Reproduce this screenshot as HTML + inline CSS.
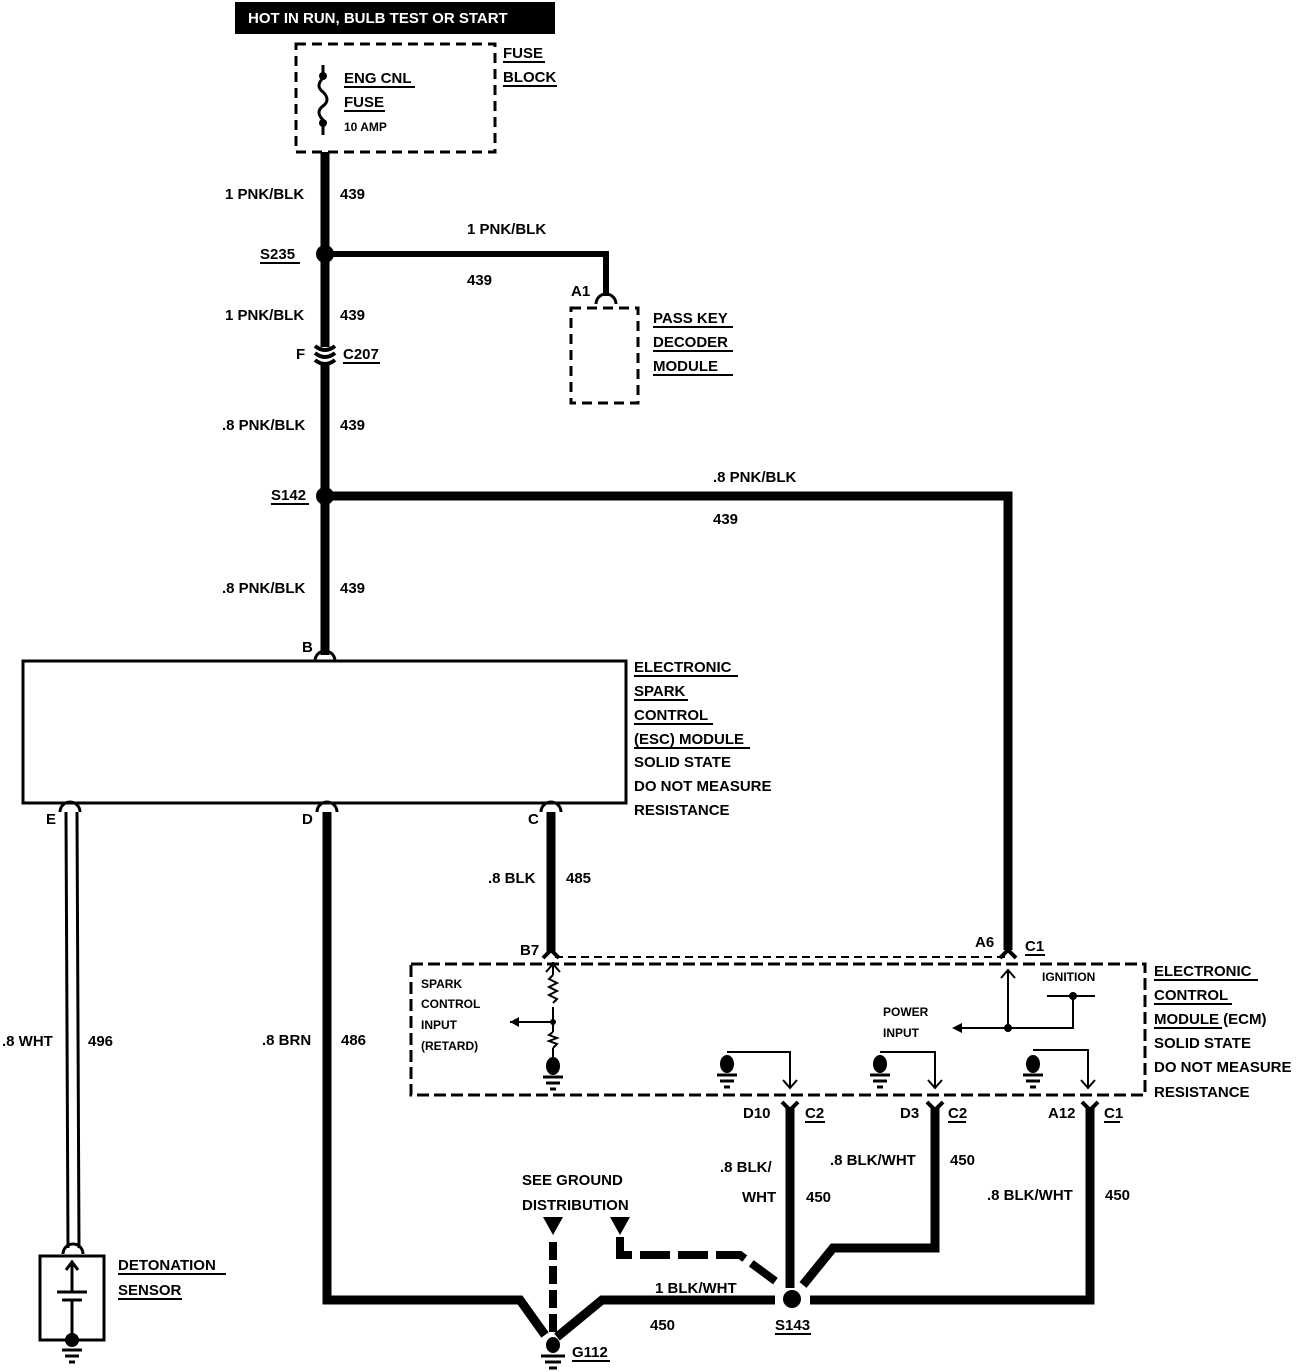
<!DOCTYPE html>
<html><head><meta charset="utf-8"><style>
html,body{margin:0;padding:0;background:#fff}
svg{display:block}
text{font-family:"Liberation Sans",sans-serif;font-weight:bold;font-size:15px;fill:#000}
.s{font-size:12px}
</style></head><body>
<svg width="1312" height="1372" viewBox="0 0 1312 1372" xmlns="http://www.w3.org/2000/svg">
<rect x="235" y="2" width="320" height="32" fill="#000"/>
<text x="248" y="23" style="fill:#fff;font-size:15px">HOT IN RUN, BULB TEST OR START</text>
<rect x="296" y="44" width="199" height="108" fill="none" stroke="#000" stroke-width="3" stroke-dasharray="10,6"/>
<path d="M323 65 V78 M323 120 V135" stroke="#000" stroke-width="3"/>
<path d="M323 78 q-8 8 0 14 q8 8 0 14 q-8 6 0 14" fill="none" stroke="#000" stroke-width="3"/>
<circle cx="323" cy="76" r="4"/><circle cx="323" cy="123" r="4"/>
<text x="344" y="83">ENG CNL</text><line x1="344" y1="87" x2="415" y2="87" stroke="#000" stroke-width="2"/>
<text x="344" y="107">FUSE</text><line x1="344" y1="111" x2="385" y2="111" stroke="#000" stroke-width="2"/>
<text x="344" y="131" class="s">10 AMP</text>
<text x="503" y="58">FUSE</text><line x1="503" y1="62" x2="545" y2="62" stroke="#000" stroke-width="2"/>
<text x="503" y="82">BLOCK</text><line x1="503" y1="86" x2="557" y2="86" stroke="#000" stroke-width="2"/>
<path d="M325 152 V347 M325 362 V655" stroke="#000" stroke-width="9" fill="none"/>
<path d="M315 346 q10 8 20 0 M315 353 q10 8 20 0 M315 360 q10 8 20 0" stroke="#000" stroke-width="4" fill="none"/>
<text x="225" y="199">1 PNK/BLK</text><text x="340" y="199">439</text>
<circle cx="325" cy="254" r="9"/>
<text x="260" y="259">S235</text><line x1="260" y1="263" x2="300" y2="263" stroke="#000" stroke-width="2"/>
<path d="M325 254 H606 V296" stroke="#000" stroke-width="6" fill="none"/>
<path d="M596 304 a10 10 0 0 1 20 0" stroke="#000" stroke-width="3" fill="none"/>
<text x="467" y="234">1 PNK/BLK</text><text x="467" y="285">439</text>
<text x="571" y="296">A1</text>
<rect x="571" y="308" width="67" height="95" fill="none" stroke="#000" stroke-width="3" stroke-dasharray="10,6"/>
<text x="653" y="323">PASS KEY</text><line x1="653" y1="327" x2="733" y2="327" stroke="#000" stroke-width="2"/>
<text x="653" y="347">DECODER</text><line x1="653" y1="351" x2="733" y2="351" stroke="#000" stroke-width="2"/>
<text x="653" y="371">MODULE</text><line x1="653" y1="375" x2="733" y2="375" stroke="#000" stroke-width="2"/>
<text x="225" y="320">1 PNK/BLK</text><text x="340" y="320">439</text>
<text x="296" y="359">F</text><text x="343" y="359">C207</text><line x1="343" y1="363" x2="380" y2="363" stroke="#000" stroke-width="2"/>
<text x="222" y="430">.8 PNK/BLK</text><text x="340" y="430">439</text>
<circle cx="325" cy="496" r="9"/>
<text x="271" y="500">S142</text><line x1="271" y1="504" x2="309" y2="504" stroke="#000" stroke-width="2"/>
<path d="M325 496 H1008 V950" stroke="#000" stroke-width="9" fill="none"/>
<text x="713" y="482">.8 PNK/BLK</text><text x="713" y="524">439</text>
<text x="222" y="593">.8 PNK/BLK</text><text x="340" y="593">439</text>
<text x="302" y="652">B</text>
<path d="M315 661 a10 10 0 0 1 20 0" stroke="#000" stroke-width="3" fill="none"/>
<rect x="23" y="661" width="603" height="142" fill="none" stroke="#000" stroke-width="3"/>
<text x="634" y="672">ELECTRONIC</text><line x1="634" y1="676" x2="738" y2="676" stroke="#000" stroke-width="2"/>
<text x="634" y="696">SPARK</text><line x1="634" y1="700" x2="688" y2="700" stroke="#000" stroke-width="2"/>
<text x="634" y="720">CONTROL</text><line x1="634" y1="724" x2="713" y2="724" stroke="#000" stroke-width="2"/>
<text x="634" y="744">(ESC) MODULE</text><line x1="634" y1="748" x2="750" y2="748" stroke="#000" stroke-width="2"/>
<text x="634" y="767">SOLID STATE</text>
<text x="634" y="791">DO NOT MEASURE</text>
<text x="634" y="815">RESISTANCE</text>
<path d="M60 812 a10 10 0 0 1 20 0 M317 812 a10 10 0 0 1 20 0 M541 812 a10 10 0 0 1 20 0" stroke="#000" stroke-width="3" fill="none"/>
<text x="46" y="824">E</text><text x="302" y="824">D</text><text x="528" y="824">C</text>
<path d="M66 812 L68 1248 M77 812 L79 1248" stroke="#000" stroke-width="3"/>
<text x="2" y="1046">.8 WHT</text><text x="88" y="1046">496</text>
<path d="M327 812 V1300 H520 L545 1335" stroke="#000" stroke-width="9" fill="none"/>
<text x="262" y="1045">.8 BRN</text><text x="341" y="1045">486</text>
<path d="M551 812 V952" stroke="#000" stroke-width="9"/>
<text x="488" y="883">.8 BLK</text><text x="566" y="883">485</text>
<path d="M555 957 H1005" stroke="#000" stroke-width="2" stroke-dasharray="8,5"/>
<rect x="411" y="964" width="734" height="131" fill="none" stroke="#000" stroke-width="3" stroke-dasharray="12,5"/>
<path d="M543 958 l8 -8 l8 8 M1000 958 l8 -8 l8 8" stroke="#000" stroke-width="4" fill="none"/>
<text x="520" y="955">B7</text><text x="975" y="947">A6</text><text x="1025" y="951">C1</text>
<line x1="1025" y1="955" x2="1045" y2="955" stroke="#000" stroke-width="2"/>
<text x="421" y="988" class="s">SPARK</text><text x="421" y="1008" class="s">CONTROL</text>
<text x="421" y="1029" class="s">INPUT</text><text x="421" y="1050" class="s">(RETARD)</text>
<path d="M553 962 V975 M546 972 l7 -8 l7 8 M553 1007 V1032 M553 1048 V1058" stroke="#000" stroke-width="2" fill="none"/>
<path d="M553 975 l-4 4 l8 4 l-8 4 l8 4 l-8 4 l8 4 l-4 4 M553 1032 l-4 3 l8 3 l-8 3 l8 3 l-4 4" stroke="#000" stroke-width="2" fill="none"/>
<path d="M510 1022 H553" stroke="#000" stroke-width="2"/><path d="M510 1022 l9 -5 v10z"/><circle cx="553" cy="1022" r="3"/>
<ellipse cx="553" cy="1066" rx="7" ry="9"/><path d="M543 1077 H563 M546 1083 H560 M550 1089 H556" stroke="#000" stroke-width="3"/>
<ellipse cx="727" cy="1064" rx="7" ry="9"/><path d="M717 1075 H737 M720 1081 H734 M724 1087 H730" stroke="#000" stroke-width="3"/>
<path d="M727 1052 H790 V1088 M783 1080 l7 8 l7 -8" stroke="#000" stroke-width="2" fill="none"/>
<ellipse cx="880" cy="1064" rx="7" ry="9"/><path d="M870 1075 H890 M873 1081 H887 M877 1087 H883" stroke="#000" stroke-width="3"/>
<path d="M880 1052 H935 V1088 M928 1080 l7 8 l7 -8" stroke="#000" stroke-width="2" fill="none"/>
<ellipse cx="1033" cy="1064" rx="7" ry="9"/><path d="M1023 1075 H1043 M1026 1081 H1040 M1030 1087 H1036" stroke="#000" stroke-width="3"/>
<path d="M1033 1050 H1088 V1088 M1081 1080 l7 8 l7 -8" stroke="#000" stroke-width="2" fill="none"/>
<text x="1042" y="981" class="s">IGNITION</text>
<path d="M1047 996 H1095 M1073 996 V1028 H960 M1008 1028 V970 M1001 978 l7 -8 l7 8" stroke="#000" stroke-width="2" fill="none"/>
<circle cx="1073" cy="996" r="4"/><circle cx="1008" cy="1028" r="4"/><path d="M952 1028 l10 -5 v10z"/>
<text x="883" y="1016" class="s">POWER</text><text x="883" y="1037" class="s">INPUT</text>
<text x="1154" y="976">ELECTRONIC</text><line x1="1154" y1="980" x2="1258" y2="980" stroke="#000" stroke-width="2"/>
<text x="1154" y="1000">CONTROL</text><line x1="1154" y1="1004" x2="1232" y2="1004" stroke="#000" stroke-width="2"/>
<text x="1154" y="1024">MODULE (ECM)</text><line x1="1154" y1="1028" x2="1222" y2="1028" stroke="#000" stroke-width="2"/>
<text x="1154" y="1048">SOLID STATE</text>
<text x="1154" y="1072">DO NOT MEASURE</text>
<text x="1154" y="1097">RESISTANCE</text>
<path d="M782 1102 l8 8 l8 -8 M927 1102 l8 8 l8 -8 M1082 1102 l8 8 l8 -8" stroke="#000" stroke-width="4" fill="none"/>
<text x="743" y="1118">D10</text><text x="805" y="1118">C2</text>
<text x="900" y="1118">D3</text><text x="948" y="1118">C2</text>
<text x="1048" y="1118">A12</text><text x="1104" y="1118">C1</text>
<line x1="805" y1="1122" x2="825" y2="1122" stroke="#000" stroke-width="2"/>
<line x1="948" y1="1122" x2="966" y2="1122" stroke="#000" stroke-width="2"/>
<line x1="1104" y1="1122" x2="1120" y2="1122" stroke="#000" stroke-width="2"/>
<path d="M790 1108 V1288" stroke="#000" stroke-width="9"/>
<path d="M935 1108 V1248 H833 L803 1285" stroke="#000" stroke-width="9" fill="none"/>
<path d="M1090 1108 V1300 H810" stroke="#000" stroke-width="9" fill="none"/>
<path d="M775 1300 H602 L557 1337" stroke="#000" stroke-width="9" fill="none"/>
<circle cx="792" cy="1299" r="9"/>
<text x="775" y="1330">S143</text><line x1="775" y1="1334" x2="811" y2="1334" stroke="#000" stroke-width="2"/>
<text x="720" y="1172">.8 BLK/</text><text x="742" y="1202">WHT</text><text x="806" y="1202">450</text>
<text x="830" y="1165">.8 BLK/WHT</text><text x="950" y="1165">450</text>
<text x="987" y="1200">.8 BLK/WHT</text><text x="1105" y="1200">450</text>
<text x="655" y="1293">1 BLK/WHT</text><text x="650" y="1330">450</text>
<text x="522" y="1185">SEE GROUND</text><text x="522" y="1210">DISTRIBUTION</text>
<path d="M543 1217 h20 l-10 18z M610 1217 h20 l-10 18z"/>
<path d="M553 1242 V1332" stroke="#000" stroke-width="8" stroke-dasharray="18,6"/>
<path d="M620 1237 V1255 H740 L778 1283" stroke="#000" stroke-width="8" fill="none" stroke-dasharray="30,8"/>
<ellipse cx="553" cy="1345" rx="7" ry="8"/><path d="M541 1356 H565 M545 1362 H561 M549 1368 H557" stroke="#000" stroke-width="3"/>
<text x="572" y="1357">G112</text><line x1="572" y1="1361" x2="610" y2="1361" stroke="#000" stroke-width="2"/>
<path d="M63 1254 a10 10 0 0 1 20 0" stroke="#000" stroke-width="3" fill="none"/>
<rect x="40" y="1256" width="64" height="84" fill="none" stroke="#000" stroke-width="3"/>
<path d="M72 1262 V1292 M66 1270 l6 -8 l6 8 M57 1292 H87 M62 1300 H82 M72 1300 V1335" stroke="#000" stroke-width="3" fill="none"/>
<ellipse cx="72" cy="1340" rx="7" ry="7"/><path d="M62 1350 H82 M65 1356 H79 M69 1362 H75" stroke="#000" stroke-width="3"/>
<text x="118" y="1270">DETONATION</text><line x1="118" y1="1274" x2="226" y2="1274" stroke="#000" stroke-width="2"/>
<text x="118" y="1295">SENSOR</text><line x1="118" y1="1299" x2="182" y2="1299" stroke="#000" stroke-width="2"/>
</svg>
</body></html>
